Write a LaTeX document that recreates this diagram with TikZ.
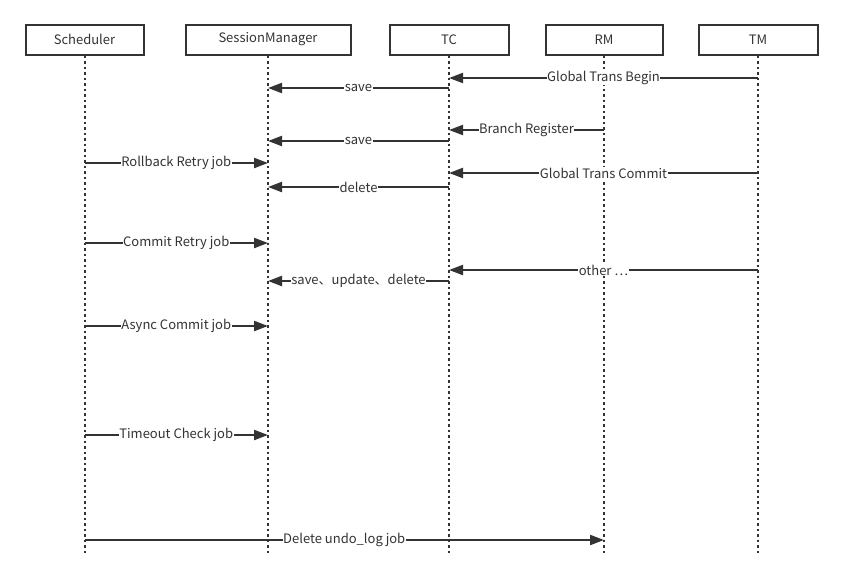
\documentclass[tikz,border=0pt]{standalone}
\usepackage{fontspec}
\setmainfont{Noto Sans CJK SC}
\usetikzlibrary{arrows.meta}
\definecolor{ink}{HTML}{333333}

\begin{document}
\begin{tikzpicture}[x=1pt,y=-1pt,
	actor/.style={draw=ink,line width=2pt,minimum height=30pt,inner sep=0pt,text=ink,font=\fontsize{13}{15}\selectfont},
	lifeline/.style={draw=ink,line width=2pt,dash pattern=on 2.5pt off 3pt},
	msg/.style={draw=ink,line width=2.2pt,-{Triangle[length=14pt,width=10pt]}},
	msglabel/.style={fill=white,text=ink,inner sep=0.6pt,font=\fontsize{13}{15}\selectfont}]
	\useasboundingbox (0,0) rectangle (842,581);
	%ACTORS
	\node[actor,minimum width=118pt] (sched) at (84.5,39.5) {Scheduler};
	\node[actor,minimum width=165pt] (sm) at (268,39.5) {SessionManager};
	\node[actor,minimum width=119pt] (tc) at (449,39.5) {TC};
	\node[actor,minimum width=117pt] (rm) at (604,39.5) {RM};
	\node[actor,minimum width=119pt] (tm) at (758,39.5) {TM};
	\foreach \n in {sched,sm,tc,rm,tm}
		\draw[lifeline] (\n.south) -- (\n.south |- 0,553);
	%MESSAGES
	\foreach \src/\dst/\y/\txt in {
		tm/tc/78/Global Trans Begin,
		tc/sm/88/save,
		rm/tc/130/Branch Register,
		tc/sm/141/save,
		sched/sm/163/Rollback Retry job,
		tm/tc/173/Global Trans Commit,
		tc/sm/187/delete,
		sched/sm/243/Commit Retry job,
		tm/tc/270/other …,
		tc/sm/281/save、update、delete,
		sched/sm/326/Async Commit job,
		sched/sm/435/Timeout Check job,
		sched/rm/540/Delete undo\_log job}
		\draw[msg] (\src |- 0,\y) -- node[msglabel] {\txt} (\dst |- 0,\y);
\end{tikzpicture}
\end{document}
